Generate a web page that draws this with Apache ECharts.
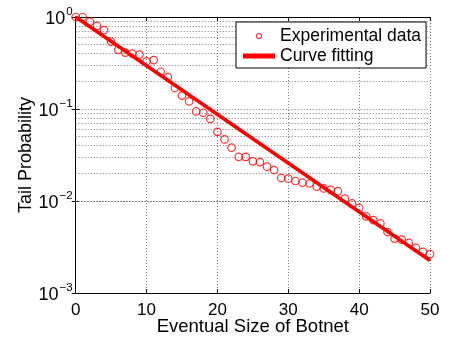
<!DOCTYPE html>
<html><head><meta charset="utf-8">
<script src="https://cdn.jsdelivr.net/npm/echarts@6/dist/echarts.min.js"></script>
<style>html,body{margin:0;padding:0;background:#fff}#c{width:455px;height:341px}</style>
</head><body><div id="c"></div>
<script>
var sizes = [0,1,2,3,4,5,6,7,8,9,10,11,12,13,14,15,16,17,18,19,20,21,22,23,24,25,26,27,28,29,30,31,32,33,34,35,36,37,38,39,40,41,42,43,44,45,46,47,48,49,50];
var tailProb = [1.0,1.0,0.89,0.80,0.72,0.54,0.44,0.41,0.40,0.39,0.33,0.34,0.254,0.222,0.169,0.14,0.121,0.094,0.091,0.078,0.0565,0.0467,0.038,0.0302,0.0302,0.027,0.0265,0.0236,0.0217,0.0178,0.0175,0.0165,0.0158,0.0155,0.0143,0.0137,0.0132,0.0128,0.0106,0.0094,0.0084,0.0068,0.0062,0.0057,0.0046,0.0039,0.0038,0.0035,0.0031,0.0028,0.00265];
var fitX = [0, 50];
var fitY = [1.0, 0.00225];
var xTicks = [0, 10, 20, 30, 40, 50];
var yExponents = {'-3':'−3','-2':'−2','-1':'−1','0':'0'};
var seriesNames = ['Experimental data', 'Curve fitting'];
var xName = 'Eventual Size of Botnet';
var yName = 'Tail Probability';

var FONT = 'Liberation Sans, Arial, Helvetica, sans-serif';
var minorY = [];
for (var d = -3; d < 0; d++) for (var m = 2; m <= 9; m++) minorY.push({yAxis: m * Math.pow(10, d)});
var gridDot = {color: '#777', width: 1, type: [1, 2]};

var chart = echarts.init(document.getElementById('c'), null, {renderer: 'canvas'});
chart.setOption({
  animation: false,
  textStyle: {fontFamily: FONT},
  grid: {left: 75.7, right: 25, top: 17, bottom: 47},
  legend: {
    orient: 'vertical', left: 236, top: 22,
    backgroundColor: '#fff', borderColor: '#000', borderWidth: 1,
    padding: [5, 5, 3, 7], itemGap: 2, itemWidth: 32, itemHeight: 5,
    textStyle: {fontSize: 17.5, color: '#000', fontFamily: FONT, padding: [0,0,0,0]},
    data: [
      {name: seriesNames[0], icon: 'circle', itemStyle: {color: '#fff', borderColor: '#ff0000', borderWidth: 1.2}},
      {name: seriesNames[1], icon: 'rect', itemStyle: {color: '#ff0000', borderWidth: 0}}
    ],
    z: 10
  },
  xAxis: [{
    type: 'value', min: 0, max: 50, interval: 10,
    name: xName, nameLocation: 'middle', nameGap: 24, nameMoveOverlap: false,
    nameTextStyle: {fontSize: 18.5, color: '#000', fontFamily: FONT},
    axisLine: {lineStyle: {color: '#000', width: 1}},
    axisTick: {inside: true, length: 4, lineStyle: {color: '#000'}},
    axisLabel: {fontSize: 17, color: '#000', margin: 9, fontFamily: FONT,
      formatter: function (v) { return xTicks.indexOf(v) >= 0 ? String(v) : ''; }},
    splitLine: {show: true, lineStyle: gridDot}
  }, {
    type: 'value', min: 0, max: 50, interval: 10, position: 'top',
    axisLine: {lineStyle: {color: '#000', width: 1}},
    axisTick: {inside: true, length: 4, lineStyle: {color: '#000'}},
    axisLabel: {show: false}, splitLine: {show: false}
  }],
  yAxis: [{
    type: 'log', logBase: 10, min: 0.001, max: 1,
    name: yName, nameLocation: 'middle', nameGap: 41, nameRotate: 90, nameMoveOverlap: false,
    nameTextStyle: {fontSize: 18, color: '#000', fontFamily: FONT},
    axisLine: {lineStyle: {color: '#000', width: 1}},
    axisTick: {inside: true, length: 4, lineStyle: {color: '#000'}},
    axisLabel: {
      margin: 3, color: '#000',
      formatter: function (v) {
        var e = String(Math.round(Math.log10(v)));
        return '{b|10}{s|' + (yExponents[e] || e) + '}';
      },
      rich: {
        b: {fontSize: 18, fontFamily: FONT, color: '#000', verticalAlign: 'bottom', lineHeight: 22, padding: [6,0,0,0]},
        s: {fontSize: 11.5, fontFamily: FONT, color: '#000', verticalAlign: 'top', lineHeight: 22, padding: [0,0,10,1]}
      }
    },
    splitLine: {show: true, lineStyle: gridDot}
  }, {
    type: 'log', logBase: 10, min: 0.001, max: 1, position: 'right',
    axisLine: {lineStyle: {color: '#000', width: 1}},
    axisTick: {inside: true, length: 4, lineStyle: {color: '#000'}},
    axisLabel: {show: false}, splitLine: {show: false}
  }],
  series: [{
    name: seriesNames[0], type: 'scatter',
    data: sizes.map(function (x, i) { return [x, tailProb[i]]; }),
    symbol: 'circle', symbolSize: 7.5,
    itemStyle: {color: 'rgba(255,255,255,0)', borderColor: '#ff0000', borderWidth: 1.2},
    z: 3,
    markLine: {
      silent: true, symbol: 'none', label: {show: false},
      lineStyle: gridDot, animation: false, z: 1,
      data: minorY
    }
  }, {
    name: seriesNames[1], type: 'line',
    data: fitX.map(function (x, i) { return [x, fitY[i]]; }),
    symbol: 'none', lineStyle: {color: '#ff0000', width: 3.6}, itemStyle: {color: '#ff0000'},
    z: 4
  }]
});
</script></body></html>
